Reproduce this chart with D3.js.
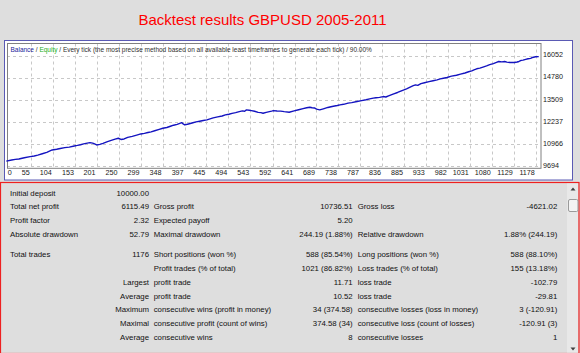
<!DOCTYPE html>
<html><head><meta charset="utf-8">
<script src="https://cdn.jsdelivr.net/npm/d3@7"></script>
<style>
html,body{margin:0;padding:0;background:#dedede;}
svg{display:block;}
text{font-family:"Liberation Sans",Arial,sans-serif;}
</style></head>
<body>
<script>
// ---- data ----
const title = "Backtest results GBPUSD 2005-2011";
const headerParts = ["Balance", " / ", "Equity", " / Every tick (the most precise method based on all available least timeframes to generate each tick) / 90.00%"];
const trades = [0, 12, 20, 28, 40, 53, 62, 70, 80, 90, 96, 102, 112, 120, 130, 140, 151, 158, 165, 172, 180, 186, 192, 195, 201, 208, 215, 225, 235, 242, 249, 255, 262, 270, 280, 290, 299, 307, 315, 322, 330, 340, 348, 357, 365, 372, 380, 390, 394, 397, 405, 415, 422, 430, 438, 446, 453, 460, 470, 480, 487, 495, 502, 510, 518, 525, 530, 534, 540, 545, 552, 560, 566, 571, 578, 585, 590, 594, 602, 610, 618, 629, 640, 650, 660, 668, 675, 680, 685, 690, 697, 705, 715, 722, 730, 736, 742, 750, 760, 768, 780, 790, 800, 808, 816, 822, 830, 838, 844, 850, 860, 870, 880, 890, 898, 905, 910, 915, 922, 930, 940, 949, 958, 965, 972, 980, 990, 1001, 1010, 1020, 1028, 1035, 1040, 1046, 1053, 1060, 1068, 1075, 1083, 1090, 1095, 1102, 1108, 1113, 1120, 1130, 1136, 1140, 1145, 1149, 1155, 1160, 1166, 1170, 1177, 1184];
const balance = [10000, 10060, 10100, 10120, 10190, 10252, 10290, 10340, 10420, 10500, 10570, 10638, 10680, 10720, 10770, 10800, 10868, 10900, 10940, 10990, 11030, 11058, 11030, 11000, 10925, 10960, 11020, 11120, 11200, 11260, 11311, 11240, 11271, 11360, 11420, 11490, 11558, 11590, 11640, 11680, 11740, 11820, 11886, 11930, 12000, 12060, 12110, 12208, 12120, 12076, 12130, 12200, 12250, 12290, 12330, 12364, 12420, 12480, 12540, 12590, 12650, 12692, 12740, 12780, 12840, 12880, 12860, 12939, 12920, 12900, 12860, 12800, 12780, 12749, 12800, 12840, 12870, 12899, 12880, 12870, 12840, 12807, 12880, 12950, 13010, 13060, 13094, 13060, 13050, 12980, 12939, 13000, 13080, 13120, 13160, 13190, 13227, 13260, 13330, 13360, 13420, 13470, 13520, 13570, 13612, 13640, 13660, 13705, 13680, 13750, 13850, 13940, 14050, 14150, 14250, 14330, 14378, 14350, 14450, 14500, 14560, 14610, 14665, 14720, 14760, 14800, 14880, 14930, 14994, 15060, 15130, 15180, 15240, 15300, 15339, 15400, 15470, 15540, 15600, 15670, 15718, 15700, 15720, 15680, 15660, 15661, 15690, 15720, 15780, 15800, 15840, 15874, 15900, 15950, 15990, 16000, 16060, 16115];
const xTicks = [0, 55, 104, 153, 201, 250, 299, 348, 397, 445, 494, 543, 592, 641, 689, 738, 787, 836, 885, 933, 982, 1031, 1080, 1129, 1178];
const yTicks = [9694, 10966, 12237, 13509, 14780, 16052];
const rowCol1Label = ["Initial deposit", "Total net profit", "Profit factor", "Absolute drawdown", "Total trades", "", "Largest", "Average", "Maximum", "Maximal", "Average"];
const rowCol1Value = ["10000.00", "6115.49", "2.32", "52.79", "1176", "", "", "", "", "", ""];
const rowCol2Label = ["", "Gross profit", "Expected payoff", "Maximal drawdown", "Short positions (won %)", "Profit trades (% of total)", "profit trade", "profit trade", "consecutive wins (profit in money)", "consecutive profit (count of wins)", "consecutive wins"];
const rowCol2Value = ["", "10736.51", "5.20", "244.19 (1.88%)", "588 (85.54%)", "1021 (86.82%)", "11.71", "10.52", "34 (374.58)", "374.58 (34)", "8"];
const rowCol3Label = ["", "Gross loss", "", "Relative drawdown", "Long positions (won %)", "Loss trades (% of total)", "loss trade", "loss trade", "consecutive losses (loss in money)", "consecutive loss (count of losses)", "consecutive losses"];
const rowCol3Value = ["", "-4621.02", "", "1.88% (244.19)", "588 (88.10%)", "155 (13.18%)", "-102.79", "-29.81", "3 (-120.91)", "-120.91 (3)", "1"];
const rowY = [192.7, 206.3, 220.3, 234, 254, 268, 281.7, 296, 309.3, 323.3, 336.7];

// ---- drawing ----
const W = 580, H = 353;
const svg = d3.select("body").append("svg").attr("width", W).attr("height", H);
svg.append("rect").attr("width", W).attr("height", H).attr("fill", "#dedede");

svg.append("text").attr("x", 262.5).attr("y", 25).attr("text-anchor", "middle")
  .attr("font-size", 15).attr("fill", "#ff0000").text(title);

// chart frame
svg.append("rect").attr("x", 4.5).attr("y", 40.5).attr("width", 568).attr("height", 139.5)
  .attr("fill", "#ffffff").attr("stroke", "#5a5ab4").attr("stroke-width", 1);

const pl = 7, pr = 541, pt = 43.5, pb = 168.3;
const x = d3.scaleLinear().domain([0, 1189]).range([6.3, 541]);
const y = d3.scaleLinear().domain([9694, 16052]).range([166.4, 55.7]);

const grid = svg.append("g").attr("stroke", "#c8c8c8").attr("stroke-dasharray", "3,3").attr("stroke-width", 1);
xTicks.slice(1).forEach(t => {
  const xx = Math.round(x(t)) + 0.5;
  grid.append("line").attr("x1", xx).attr("x2", xx).attr("y1", pt).attr("y2", pb);
});
yTicks.forEach(v => {
  const yy = Math.round(y(v)) + 0.5;
  grid.append("line").attr("x1", pl).attr("x2", pr).attr("y1", yy).attr("y2", yy);
});

svg.append("rect").attr("x", pl + 0.5).attr("y", pt).attr("width", pr - pl - 0.5).attr("height", pb - pt)
  .attr("fill", "none").attr("stroke", "#808080").attr("stroke-width", 1);

// header
const hdr = svg.append("text").attr("x", 10.5).attr("y", 51.5).attr("font-size", 6.5).attr("fill", "#303030");
const hdrColors = ["#22229a", "#303030", "#22b022", "#303030"];
headerParts.forEach((p, i) => hdr.append("tspan").attr("fill", hdrColors[i]).attr("xml:space", "preserve").text(p));

// axis labels
const xl = svg.append("g").attr("font-size", 7.2).attr("fill", "#202020");
xTicks.forEach((t, i) => {
  xl.append("text").attr("x", i === 0 ? x(t) + 1.5 : x(t) - 1.2).attr("y", 175)
    .attr("text-anchor", i === 0 ? "start" : "end").text(t);
});
const yl = svg.append("g").attr("font-size", 7.2).attr("fill", "#202020");
yTicks.forEach(v => {
  yl.append("text").attr("x", 543).attr("y", y(v) + 1.6).text(v);
});

// line
const pts = trades.map((t, i) => [t, balance[i]]);
svg.append("path").datum(pts)
  .attr("d", d3.line().x(d => x(d[0])).y(d => y(d[1])))
  .attr("fill", "none").attr("stroke", "#1414c0").attr("stroke-width", 1.4).attr("stroke-linejoin", "round");

// table panel
svg.append("rect").attr("x", 0.5).attr("y", 182.5).attr("width", 578.5).attr("height", 171)
  .attr("fill", "#dedede").attr("stroke", "#ee2020").attr("stroke-width", 1.2);

const tb = svg.append("g").attr("font-size", 7.8).attr("fill", "#101010");
rowY.forEach((ry, i) => {
  const by = ry + 2.8;
  if (rowCol1Label[i]) {
    const right = i >= 6;
    tb.append("text").attr("x", right ? 149 : 10).attr("y", by).attr("text-anchor", right ? "end" : "start").text(rowCol1Label[i]);
  }
  if (rowCol1Value[i]) tb.append("text").attr("x", 149).attr("y", by).attr("text-anchor", "end").text(rowCol1Value[i]);
  if (rowCol2Label[i]) tb.append("text").attr("x", 153.7).attr("y", by).text(rowCol2Label[i]);
  if (rowCol2Value[i]) tb.append("text").attr("x", 352.7).attr("y", by).attr("text-anchor", "end").text(rowCol2Value[i]);
  if (rowCol3Label[i]) tb.append("text").attr("x", 357.7).attr("y", by).text(rowCol3Label[i]);
  if (rowCol3Value[i]) tb.append("text").attr("x", 557.3).attr("y", by).attr("text-anchor", "end").text(rowCol3Value[i]);
});

// scrollbar
svg.append("rect").attr("x", 567).attr("y", 183.5).attr("width", 11).attr("height", 169).attr("fill", "#e8e8e8");
svg.append("rect").attr("x", 568.5).attr("y", 199.5).attr("width", 9.5).attr("height", 12).attr("rx", 1.5)
  .attr("fill", "#f4f4f4").attr("stroke", "#9a9a9a");
svg.append("path").attr("d", "M570.5,190.5 L575.5,190.5 L573,187.5 Z").attr("fill", "#404040");
svg.append("path").attr("d", "M570.5,347.5 L575.5,347.5 L573,350.5 Z").attr("fill", "#404040");
</script>
</body></html>
